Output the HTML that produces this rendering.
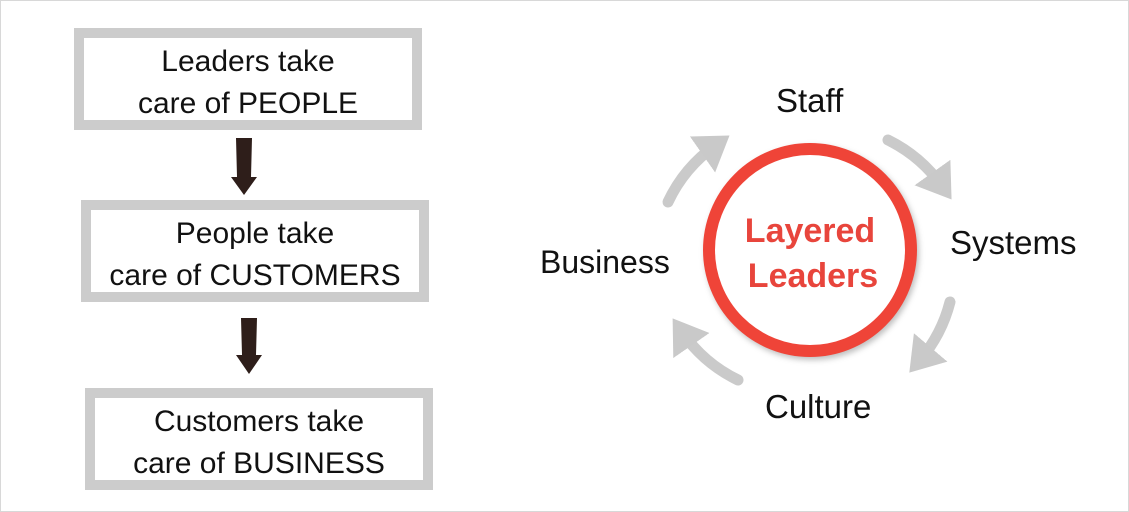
<!DOCTYPE html>
<html><head><meta charset="utf-8"><style>
html,body{margin:0;padding:0;background:#fff;}
body{width:1129px;height:512px;position:relative;overflow:hidden;font-family:"Liberation Sans",sans-serif;}
.frame{position:absolute;left:0;top:0;width:1127px;height:510px;border:1px solid #d8d8d8;}
.box{position:absolute;border:10px solid #cccccc;background:#fff;box-sizing:border-box;text-align:center;font-size:30px;line-height:42px;color:#111;padding-top:3px;white-space:nowrap;}
.lbl{position:absolute;font-size:32px;color:#111;white-space:nowrap;}
</style></head><body>
<div class="frame"></div>
<div class="box" style="left:74px;top:28px;width:348px;height:102px;">Leaders take<br>care of PEOPLE</div>
<div class="box" style="left:81px;top:200px;width:348px;height:102px;">People take<br>care of CUSTOMERS</div>
<div class="box" style="left:85px;top:388px;width:348px;height:102px;">Customers take<br>care of BUSINESS</div>
<svg width="1129" height="512" style="position:absolute;left:0;top:0">
<defs>
<marker id="ah" markerWidth="4" markerHeight="4" refX="1.5" refY="2" orient="auto" markerUnits="strokeWidth">
<path d="M0,0 L3,2 L0,4 Z" fill="#c9c9c9"/></marker>
</defs>
<polygon points="236,138 252,138 251,177 257,177 244,195 231,177 237,177" fill="#2e1e1a"/>
<polygon points="241,318 257,318 256,355 262,355 249,374 236,355 242,355" fill="#2e1e1a"/>
<g fill="none" stroke="#cacaca" stroke-width="11" stroke-linecap="round">
<path d="M668,202 A145,145 0 0 1 716,145" marker-end="url(#ah)"/>
<path d="M888,140 A145,145 0 0 1 942,186" marker-end="url(#ah)"/>
<path d="M950,302 A145,145 0 0 1 920,360" marker-end="url(#ah)"/>
<path d="M738,380 A145,145 0 0 1 682,332" marker-end="url(#ah)"/>
</g>
<circle cx="810" cy="250" r="101" fill="#fff" stroke="#ef4438" stroke-width="12" style="filter:drop-shadow(2px 3px 3px rgba(0,0,0,0.25))"/>
<text x="810" y="242" text-anchor="middle" font-family="Liberation Sans" font-weight="bold" font-size="34" fill="#e8453c">Layered</text>
<text x="813" y="287" text-anchor="middle" font-family="Liberation Sans" font-weight="bold" font-size="34" fill="#e8453c">Leaders</text>
</svg>
<div class="lbl" style="left:776px;top:82px;font-size:33px;">Staff</div>
<div class="lbl" style="left:950px;top:224px;font-size:33px;">Systems</div>
<div class="lbl" style="left:540px;top:244px;font-size:32px;">Business</div>
<div class="lbl" style="left:765px;top:388px;font-size:33px;">Culture</div>
</body></html>
